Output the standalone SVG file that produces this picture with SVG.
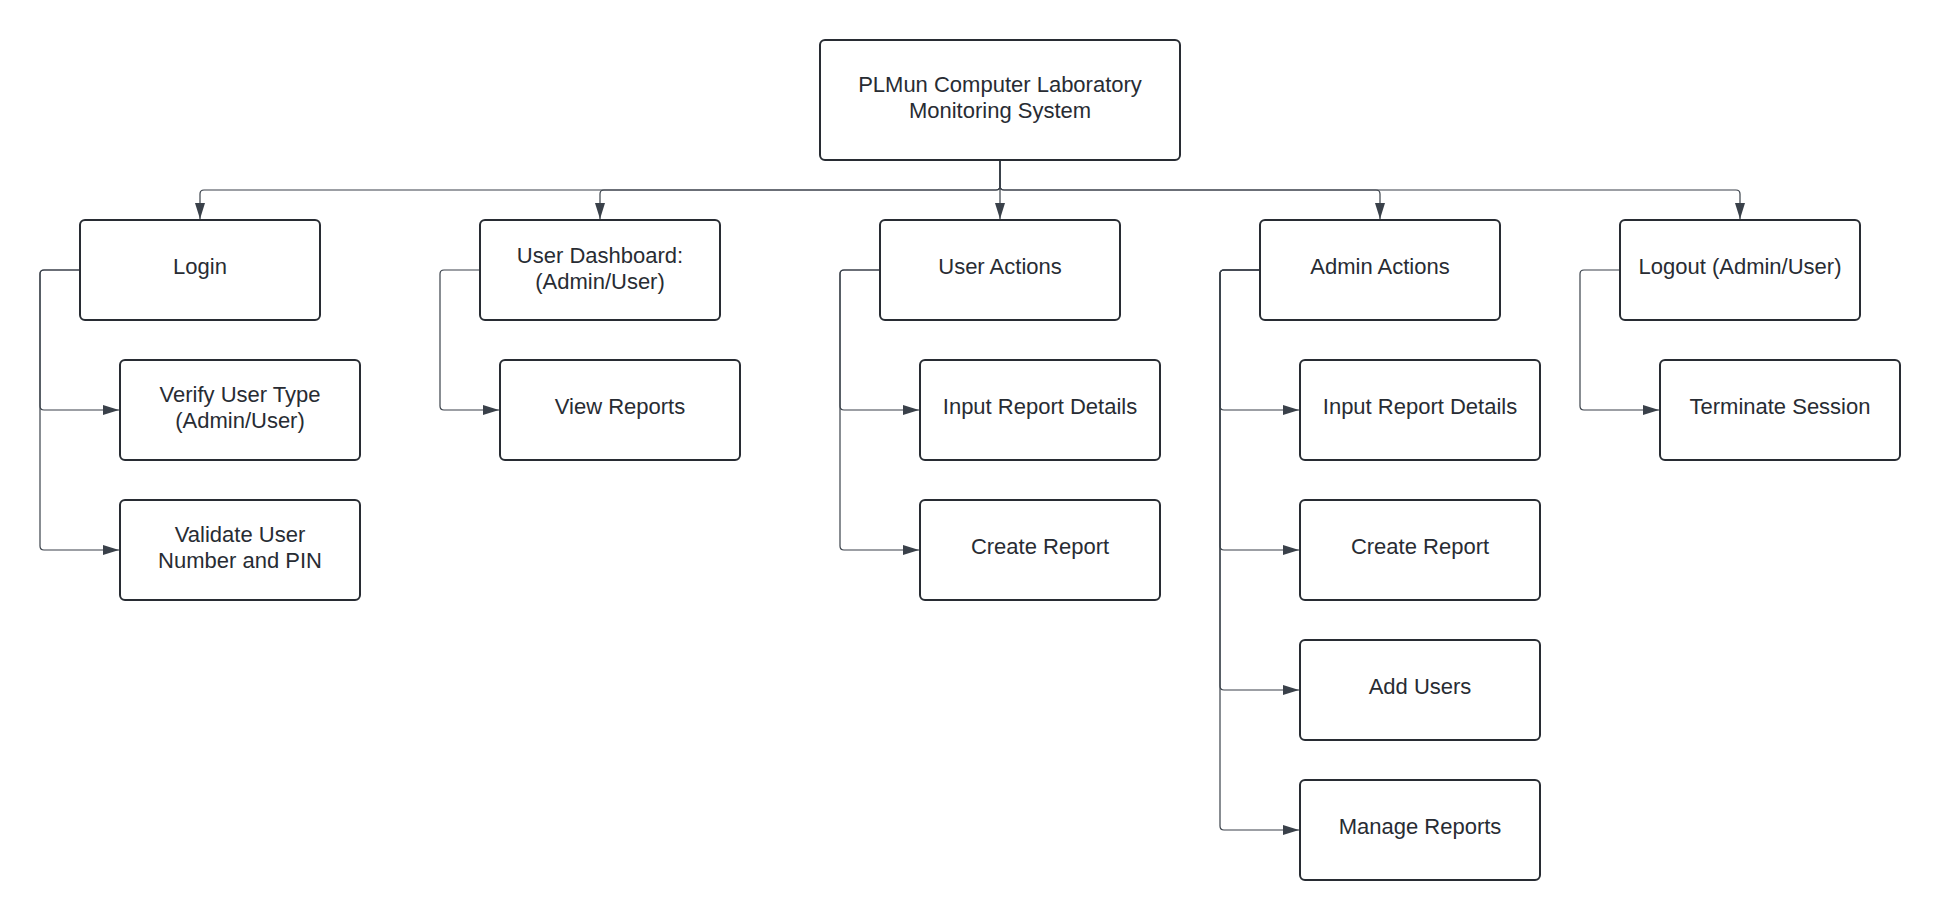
<svg xmlns="http://www.w3.org/2000/svg" width="1940" height="920" viewBox="0 0 1940 920">
<defs>
<marker id="arr" viewBox="0 0 16 10" refX="16" refY="5" markerWidth="16" markerHeight="10" markerUnits="userSpaceOnUse" orient="auto">
<path d="M0,0 L16,5 L0,10 z" fill="#3a414a"/>
</marker>
<style>
.box{fill:#ffffff;stroke:#282c33;stroke-width:2}
.t{font-family:"Liberation Sans",Arial,sans-serif;font-size:22px;fill:#282c33;text-anchor:middle}
.c{fill:none;stroke:#3a414a;stroke-width:1.2;marker-end:url(#arr)}
</style>
</defs>
<rect width="1940" height="920" fill="#ffffff"/>
<g id="connectors">
<path class="c" d="M1000,160 V186 Q1000,190 996,190 H204 Q200,190 200,194 V219"/>
<path class="c" d="M1000,160 V186 Q1000,190 996,190 H604 Q600,190 600,194 V219"/>
<path class="c" d="M1000,160 V219"/>
<path class="c" d="M1000,160 V186 Q1000,190 1004,190 H1376 Q1380,190 1380,194 V219"/>
<path class="c" d="M1000,160 V186 Q1000,190 1004,190 H1736 Q1740,190 1740,194 V219"/>
<path class="c" d="M80,270 H44 Q40,270 40,274 V406 Q40,410 44,410 H119"/>
<path class="c" d="M80,270 H44 Q40,270 40,274 V546 Q40,550 44,550 H119"/>
<path class="c" d="M480,270 H444 Q440,270 440,274 V406 Q440,410 444,410 H499"/>
<path class="c" d="M880,270 H844 Q840,270 840,274 V406 Q840,410 844,410 H919"/>
<path class="c" d="M880,270 H844 Q840,270 840,274 V546 Q840,550 844,550 H919"/>
<path class="c" d="M1260,270 H1224 Q1220,270 1220,274 V406 Q1220,410 1224,410 H1299"/>
<path class="c" d="M1260,270 H1224 Q1220,270 1220,274 V546 Q1220,550 1224,550 H1299"/>
<path class="c" d="M1260,270 H1224 Q1220,270 1220,274 V686 Q1220,690 1224,690 H1299"/>
<path class="c" d="M1260,270 H1224 Q1220,270 1220,274 V826 Q1220,830 1224,830 H1299"/>
<path class="c" d="M1620,270 H1584 Q1580,270 1580,274 V406 Q1580,410 1584,410 H1659"/>
</g>
<g id="root"><rect class="box" x="820" y="40" width="360" height="120" rx="5"/><text class="t" x="1000" y="92">PLMun Computer Laboratory</text><text class="t" x="1000" y="117.5">Monitoring System</text></g>
<g id="login"><rect class="box" x="80" y="220" width="240" height="100" rx="5"/><text class="t" x="200" y="273.5">Login</text></g>
<g id="verify"><rect class="box" x="120" y="360" width="240" height="100" rx="5"/><text class="t" x="240" y="401.7">Verify User Type</text><text class="t" x="240" y="428">(Admin/User)</text></g>
<g id="validate"><rect class="box" x="120" y="500" width="240" height="100" rx="5"/><text class="t" x="240" y="541.7">Validate User</text><text class="t" x="240" y="568">Number and PIN</text></g>
<g id="dashboard"><rect class="box" x="480" y="220" width="240" height="100" rx="5"/><text class="t" x="600" y="262.7">User Dashboard:</text><text class="t" x="600" y="289">(Admin/User)</text></g>
<g id="viewreports"><rect class="box" x="500" y="360" width="240" height="100" rx="5"/><text class="t" x="620" y="413.5">View Reports</text></g>
<g id="useractions"><rect class="box" x="880" y="220" width="240" height="100" rx="5"/><text class="t" x="1000" y="273.5">User Actions</text></g>
<g id="ua_input"><rect class="box" x="920" y="360" width="240" height="100" rx="5"/><text class="t" x="1040" y="413.5">Input Report Details</text></g>
<g id="ua_create"><rect class="box" x="920" y="500" width="240" height="100" rx="5"/><text class="t" x="1040" y="553.5">Create Report</text></g>
<g id="adminactions"><rect class="box" x="1260" y="220" width="240" height="100" rx="5"/><text class="t" x="1380" y="273.5">Admin Actions</text></g>
<g id="aa_input"><rect class="box" x="1300" y="360" width="240" height="100" rx="5"/><text class="t" x="1420" y="413.5">Input Report Details</text></g>
<g id="aa_create"><rect class="box" x="1300" y="500" width="240" height="100" rx="5"/><text class="t" x="1420" y="553.5">Create Report</text></g>
<g id="aa_add"><rect class="box" x="1300" y="640" width="240" height="100" rx="5"/><text class="t" x="1420" y="693.5">Add Users</text></g>
<g id="aa_manage"><rect class="box" x="1300" y="780" width="240" height="100" rx="5"/><text class="t" x="1420" y="833.5">Manage Reports</text></g>
<g id="logout"><rect class="box" x="1620" y="220" width="240" height="100" rx="5"/><text class="t" x="1740" y="273.5">Logout (Admin/User)</text></g>
<g id="terminate"><rect class="box" x="1660" y="360" width="240" height="100" rx="5"/><text class="t" x="1780" y="413.5">Terminate Session</text></g>
</svg>
